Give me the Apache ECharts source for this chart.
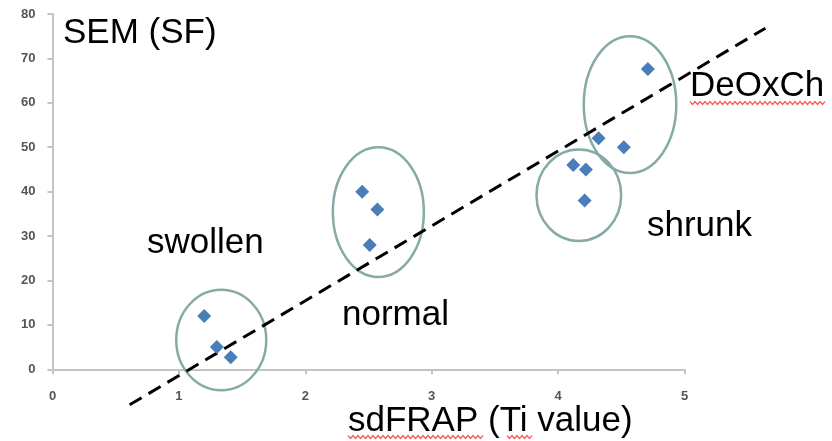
<!DOCTYPE html>
<html>
<head>
<meta charset="utf-8">
<script src="https://cdn.jsdelivr.net/npm/echarts@6/dist/echarts.min.js"></script>
<style>
html,body{margin:0;padding:0;background:#fff;}
#c{width:832px;height:441px;}
</style>
</head>
<body>
<div id="c"></div>
<script>
// ---- data ----
var pointsX = [1.2, 1.3, 1.41, 2.45, 2.57, 2.51, 4.71, 4.32, 4.52, 4.12, 4.22, 4.21];
var pointsY = [12, 5, 2.7, 40, 36, 28, 67.6, 52, 50, 46, 45, 38];
var trendX = [0.61, 5.64];
var trendY = [-8.0, 76.8];
var groupNames = ['swollen', 'normal', 'DeOxCh', 'shrunk'];
var ellipseCx = [1.335, 2.578, 4.569, 4.164];
var ellipseCy = [6.6, 35.4, 59.6, 39.2];
var ellipseRx = [0.356, 0.36, 0.366, 0.335];
var ellipseRy = [11.3, 14.6, 15.4, 10.3];
var xTicks = [0, 1, 2, 3, 4, 5];
var yTicks = [0, 10, 20, 30, 40, 50, 60, 70, 80];
var yTitle = 'SEM (SF)';
var xTitle = 'sdFRAP (Ti value)';

// ---- build ----
var scatterData = pointsX.map(function (x, i) { return [x, pointsY[i]]; });
var trendData = [[trendX[0], trendY[0], trendX[1], trendY[1]]];
var ellipseData = ellipseCx.map(function (cx, i) { return [cx, ellipseCy[i], ellipseRx[i], ellipseRy[i]]; });

var FONT = '35px "Liberation Sans", Arial, sans-serif';
function label(text, x, baseline) {
  return { type: 'text', left: x, top: baseline - 26, z: 10,
    style: { text: text, font: FONT, fill: '#000' } };
}
function squiggle(x0, x1, y) {
  var pts = [];
  var i = 0;
  for (var x = x0; x <= x1; x += 2.5) { pts.push([x, y + (i % 2 ? 1.5 : -1.5)]); i++; }
  return { type: 'polyline', z: 10, shape: { points: pts },
    style: { stroke: '#ff5a5a', lineWidth: 1.2, fill: null } };
}

var axisLineStyle = { color: '#c4c4c4', width: 2 };
var chart = echarts.init(document.getElementById('c'));
chart.setOption({
  animation: false,
  backgroundColor: '#fff',
  grid: { left: 52.5, right: 147.5, top: 14, bottom: 71.7 },
  xAxis: {
    type: 'value', min: xTicks[0], max: xTicks[xTicks.length - 1], interval: 1,
    splitLine: { show: false },
    axisLine: { onZero: false, lineStyle: axisLineStyle },
    axisTick: { show: true, length: 5, lineStyle: axisLineStyle },
    axisLabel: { margin: 21, fontSize: 13, color: '#555', fontFamily: 'Liberation Sans', fontWeight: 'bold' }
  },
  yAxis: {
    type: 'value', min: yTicks[0], max: yTicks[yTicks.length - 1], interval: 10,
    splitLine: { show: false },
    axisLine: { show: true, lineStyle: axisLineStyle },
    axisTick: { show: true, length: 5, lineStyle: axisLineStyle },
    axisLabel: { margin: 17, fontSize: 13, color: '#555', fontFamily: 'Liberation Sans', fontWeight: 'bold' }
  },
  series: [
    {
      type: 'custom', name: 'groups', clip: false, z: 3,
      data: ellipseData,
      renderItem: function (params, api) {
        var c = api.coord([api.value(0), api.value(1)]);
        var s = api.size([api.value(2), api.value(3)]);
        return { type: 'ellipse', shape: { cx: c[0], cy: c[1], rx: s[0], ry: s[1] },
          style: { fill: null, stroke: '#86aaa8', lineWidth: 2.5 } };
      }
    },
    {
      type: 'custom', name: 'trend', clip: false, z: 4,
      data: trendData,
      renderItem: function (params, api) {
        var a = api.coord([api.value(0), api.value(1)]);
        var b = api.coord([api.value(2), api.value(3)]);
        return { type: 'line', shape: { x1: a[0], y1: a[1], x2: b[0], y2: b[1] },
          style: { stroke: '#000', lineWidth: 3, lineDash: [14, 8] } };
      }
    },
    {
      type: 'scatter', name: 'SEM', data: scatterData, symbol: 'diamond', symbolSize: 14, z: 5,
      itemStyle: { color: '#4a7ebb', opacity: 1 }
    }
  ],
  graphic: [
    label(yTitle, 63, 42),
    label(groupNames[0], 147, 252),
    label(groupNames[1], 342, 324),
    label(groupNames[3], 647, 235),
    label(groupNames[2], 690, 95),
    label(xTitle, 348, 430),
    squiggle(690, 826, 103),
    squiggle(348, 485, 437),
    squiggle(507, 533, 437)
  ]
});
</script>
</body>
</html>
